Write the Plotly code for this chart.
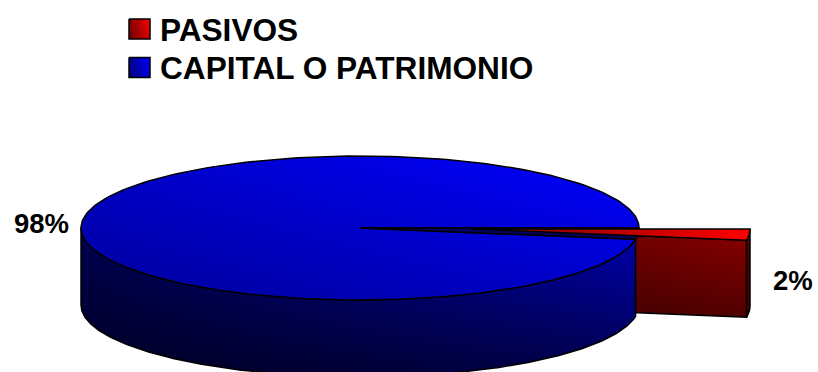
import numpy as np
import plotly.graph_objects as go

categories = ["PASIVOS", "CAPITAL O PATRIMONIO"]
values = [2.5, 97.5]
labels = ["2%", "98%"]

W, H = 818, 372
CX, CY, RX, RY, DEPTH = 360, 228, 279, 72, 77
EXPLODE_X, EXPLODE_Y = 111, 1
FONT = "Liberation Sans, Arial, sans-serif"

sweep = 2 * np.pi * values[0] / sum(values)

fig = go.Figure()


def face(xs, ys, h_left, h_right, dark_top, dark_bottom, outline=True):
    xs, ys = list(xs), list(ys)
    xs.append(xs[0]); ys.append(ys[0])
    fig.add_trace(go.Scatter(
        x=xs, y=ys, mode="lines", fill="toself", line=dict(width=0), showlegend=False,
        hoverinfo="skip",
        fillgradient=dict(type="horizontal", start=min(xs), stop=max(xs),
                          colorscale=[[0, h_left], [1, h_right]]),
    ))
    fig.add_trace(go.Scatter(
        x=xs, y=ys, mode="lines", fill="toself", showlegend=False, hoverinfo="skip",
        line=dict(width=1.5 if outline else 0, color="#000000"),
        fillgradient=dict(type="vertical", start=min(ys), stop=max(ys),
                          colorscale=[[0, f"rgba(0,0,0,{dark_top})"], [1, f"rgba(0,0,0,{dark_bottom})"]]),
    ))


def arc(a0, a1, cx=CX, cy=CY, n=240):
    t = np.linspace(a0, a1, n)
    return cx + RX * np.cos(t), cy + RY * np.sin(t)


# exploded slice, pasivos
tx, ty = CX + EXPLODE_X, CY + EXPLODE_Y
ax, ay = arc(0, sweep, tx, ty, 30)
# cut face
face([tx, ax[-1], ax[-1], tx], [ty, ay[-1], ay[-1] + DEPTH, ty + DEPTH],
     "#5c0000", "#8a0000", 0.0, 0.42)
# outer rim
face(np.r_[ax, ax[::-1]], np.r_[ay, ay[::-1] + DEPTH], "#600000", "#600000", 0.0, 0.3)

# main slice, outer wall
bx, by = arc(sweep, np.pi)
face(np.r_[bx, bx[::-1]], np.r_[by, by[::-1] + DEPTH], "#000050", "#0000b0", 0.0, 0.6)

# main slice, top
mx, my = arc(sweep, 2 * np.pi)
face(np.r_[CX, mx], np.r_[CY, my], "#0000c8", "#0000ff", 0.0, 0.22)

# notch left by the exploded slice
nx, ny = arc(0, sweep, n=30)
fig.add_trace(go.Scatter(x=np.r_[CX, nx, CX], y=np.r_[CY, ny, CY], mode="lines", fill="toself",
                         fillcolor="#000060", line=dict(color="#000000", width=1.5),
                         showlegend=False, hoverinfo="skip"))

# exploded slice, top
face(np.r_[tx, ax], np.r_[ty, ay], "#700000", "#ff0000", 0.0, 0.0)

# legend
swatches = [("#800000", "#ff0000"), ("#000090", "#0000ff")]
for i, (name, (c0, c1)) in enumerate(zip(categories, swatches)):
    y0 = 19 + 38.5 * i
    face([129, 150, 150, 129], [y0, y0, y0 + 20, y0 + 20], c0, c1, 0.0, 0.15)
    fig.add_annotation(x=158, y=y0 + 10.5, text=f"<b>{name}</b>", showarrow=False, xanchor="left",
                       yanchor="middle", font=dict(family=FONT, size=31.6, color="#000000"))

# value labels
fig.add_annotation(x=41.5, y=223, text=f"<b>{labels[1]}</b>", showarrow=False,
                   font=dict(family=FONT, size=27.5, color="#000000"))
fig.add_annotation(x=792.5, y=280, text=f"<b>{labels[0]}</b>", showarrow=False,
                   font=dict(family=FONT, size=27.5, color="#000000"))

fig.update_layout(
    width=W, height=H, margin=dict(l=0, r=0, t=0, b=0),
    paper_bgcolor="#ffffff", plot_bgcolor="#ffffff", showlegend=False,
    xaxis=dict(range=[0, W], visible=False, fixedrange=True),
    yaxis=dict(range=[H, 0], visible=False, fixedrange=True),
)
fig.write_html("out.html", config={"displayModeBar": False},
               post_script="document.body.style.margin='0';document.body.style.overflow='hidden';")
